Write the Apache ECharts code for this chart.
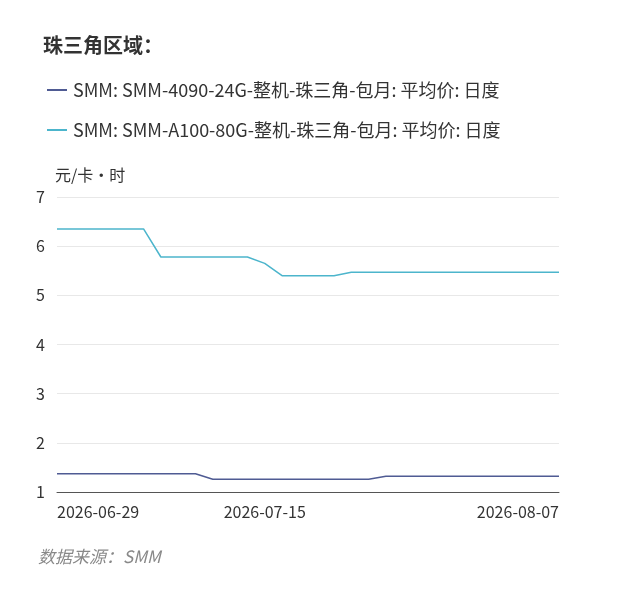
<!DOCTYPE html>
<html>
<head>
<meta charset="utf-8">
<script src="https://cdn.jsdelivr.net/npm/echarts@6/dist/echarts.min.js"></script>
<style>
  body { margin: 0; background: #fff; }
  #main { width: 605px; height: 597px; overflow: hidden; }
</style>
</head>
<body>
<div id="main"></div>
<script>
var dates = ['2026-06-29','2026-06-30','2026-07-01','2026-07-02','2026-07-03',
  '2026-07-06','2026-07-07','2026-07-08','2026-07-09','2026-07-10',
  '2026-07-13','2026-07-14','2026-07-15','2026-07-16','2026-07-17',
  '2026-07-20','2026-07-21','2026-07-22','2026-07-23','2026-07-24',
  '2026-07-27','2026-07-28','2026-07-29','2026-07-30','2026-07-31',
  '2026-08-03','2026-08-04','2026-08-05','2026-08-06','2026-08-07'];
var shownLabels = ['2026-06-29', '2026-07-15', '2026-08-07'];
var name4090 = 'SMM: SMM-4090-24G-整机-珠三角-包月: 平均价: 日度';
var nameA100 = 'SMM: SMM-A100-80G-整机-珠三角-包月: 平均价: 日度';
var price4090 = [1.37,1.37,1.37,1.37,1.37,1.37,1.37,1.37,1.37,1.26,
  1.26,1.26,1.26,1.26,1.26,1.26,1.26,1.26,1.26,1.32,
  1.32,1.32,1.32,1.32,1.32,1.32,1.32,1.32,1.32,1.32];
var priceA100 = [6.35,6.35,6.35,6.35,6.35,6.35,5.78,5.78,5.78,5.78,
  5.78,5.78,5.65,5.40,5.40,5.40,5.40,5.47,5.47,5.47,
  5.47,5.47,5.47,5.47,5.47,5.47,5.47,5.47,5.47,5.47];

var myChart = echarts.init(document.getElementById('main'));
myChart.setOption({
  textStyle: { fontFamily: 'Noto Sans CJK SC' },
  title: {
    text: '珠三角区域：', left: 38, top: 30,
    textStyle: { fontSize: 20, fontWeight: 'bold', color: '#333' }
  },
  legend: {
    orient: 'vertical', left: 42, top: 76, itemGap: 22,
    icon: 'path://M0,0 L20,0 L20,2 L0,2 Z', itemWidth: 22, itemHeight: 2,
    textStyle: { fontSize: 18, color: '#333' },
    data: [name4090, nameA100]
  },
  graphic: [{
    type: 'text', left: 38, top: 548,
    style: { text: '数据来源：SMM', fontSize: 17, fontStyle: 'italic', fill: '#888', fontFamily: 'Noto Sans CJK SC' }
  }],
  grid: { left: 57, right: 46, top: 197, bottom: 105, outerBoundsMode: 'none' },
  xAxis: {
    type: 'category', data: dates, boundaryGap: false,
    axisLine: { lineStyle: { color: '#555' } },
    axisTick: { show: false },
    axisLabel: {
      fontSize: 16, color: '#333', margin: 12,
      alignMinLabel: 'left', alignMaxLabel: 'right',
      interval: function (i, v) { return shownLabels.indexOf(v) >= 0; }
    }
  },
  yAxis: {
    type: 'value', min: 1, max: 7, interval: 1,
    name: '元/卡·时', nameLocation: 'end', nameGap: 14,
    nameTextStyle: { fontSize: 16, color: '#333', align: 'left', padding: [0, 0, 0, -2] },
    axisLabel: { fontSize: 16, color: '#333', margin: 12 },
    splitLine: { lineStyle: { color: '#e8e8e8' } }
  },
  series: [
    { name: name4090, type: 'line', data: price4090, showSymbol: false, lineStyle: { width: 1.5, color: '#4f5b93' }, itemStyle: { color: '#4f5b93' } },
    { name: nameA100, type: 'line', data: priceA100, showSymbol: false, lineStyle: { width: 1.5, color: '#4cb5cc' }, itemStyle: { color: '#4cb5cc' } }
  ]
});
</script>
</body>
</html>
